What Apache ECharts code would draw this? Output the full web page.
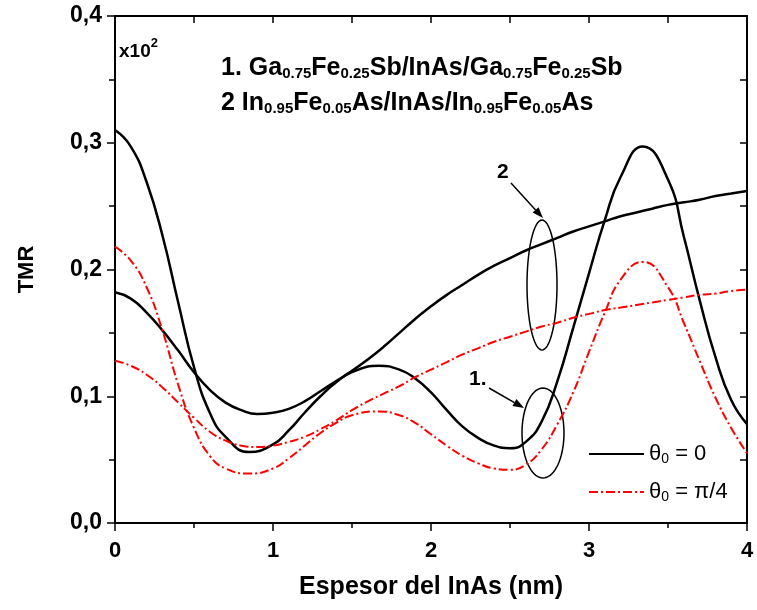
<!DOCTYPE html>
<html>
<head>
<meta charset="utf-8">
<script src="https://cdn.jsdelivr.net/npm/echarts@6/dist/echarts.min.js"></script>
<style>
  html, body { margin: 0; padding: 0; background: #fff; }
  #chart { width: 757px; height: 610px; }
</style>
</head>
<body>
<div id="chart"></div>
<script>
// thickness of InAs layer (nm); Ga grid includes the extrema of its oscillations
const thicknessGa = [0, 0.1, 0.2, 0.3, 0.4, 0.5, 0.6, 0.7, 0.85, 1.0, 1.1, 1.2, 1.3, 1.4, 1.5, 1.67, 1.8, 1.9, 2.0,
  2.1, 2.2, 2.3, 2.4, 2.5, 2.6, 2.7, 2.8, 2.9, 3.0, 3.1, 3.2, 3.34, 3.5, 3.6, 3.7, 3.8, 3.9, 4.0]
const thicknessIn = [0, 0.1, 0.2, 0.3, 0.4, 0.5, 0.6, 0.7, 0.8, 0.9, 1.0, 1.1, 1.2, 1.3, 1.4, 1.5, 1.6, 1.7, 1.8, 1.9, 2.0,
  2.1, 2.2, 2.3, 2.4, 2.5, 2.6, 2.7, 2.8, 2.9, 3.0, 3.1, 3.2, 3.3, 3.4, 3.5, 3.6, 3.7, 3.8, 3.9, 4.0]

// 1. GaFeSb/InAs/GaFeSb
const gaTheta0 = [0.310, 0.297, 0.269, 0.227, 0.174, 0.123, 0.087, 0.068, 0.056, 0.062, 0.073, 0.087, 0.100, 0.111,
  0.119, 0.124, 0.121, 0.114, 0.103, 0.089, 0.076, 0.067, 0.061, 0.059, 0.064, 0.080, 0.112, 0.154, 0.197,
  0.239, 0.273, 0.297, 0.271, 0.226, 0.176, 0.131, 0.097, 0.078]
const gaThetaPi4 = [0.218, 0.207, 0.186, 0.152, 0.109, 0.075, 0.053, 0.043, 0.039, 0.043, 0.051, 0.061, 0.071, 0.079,
  0.085, 0.088, 0.085, 0.079, 0.070, 0.061, 0.053, 0.047, 0.043, 0.042, 0.046, 0.058, 0.078, 0.103, 0.135,
  0.166, 0.192, 0.206, 0.186, 0.158, 0.128, 0.099, 0.075, 0.055]

// 2. InFeAs/InAs/InFeAs
const inTheta0 = [0.182, 0.177, 0.166, 0.152, 0.136, 0.119, 0.105, 0.095, 0.089, 0.086, 0.087, 0.090, 0.096, 0.104, 0.112,
  0.120, 0.129, 0.139, 0.150, 0.161, 0.171, 0.180, 0.188, 0.196, 0.203, 0.209, 0.215, 0.220, 0.225, 0.230, 0.234,
  0.238, 0.242, 0.245, 0.248, 0.251, 0.253, 0.255, 0.258, 0.260, 0.262]
const inThetaPi4 = [0.128, 0.124, 0.117, 0.107, 0.095, 0.083, 0.072, 0.065, 0.061, 0.060, 0.061, 0.064, 0.068, 0.074, 0.081,
  0.089, 0.096, 0.102, 0.108, 0.115, 0.121, 0.127, 0.133, 0.138, 0.143, 0.147, 0.151, 0.155, 0.158, 0.162, 0.165,
  0.168, 0.170, 0.172, 0.174, 0.176, 0.178, 0.180, 0.181, 0.183, 0.184]

const legendNames = ['θ0 = 0', 'θ0 = π/4']

const font = '"Liberation Sans", Arial, sans-serif'
const pairs = (xs, ys) => xs.map((x, i) => [x, ys[i]])

const solid = { color: '#000', width: 2.5, type: 'solid' }
const dashDot = { color: '#ff0000', width: 2, type: [9, 3, 2, 3] }

function ellipse(cx, cy, rx, ry) {
  const pts = []
  for (let i = 0; i < 72; i++) {
    const a = i / 72 * Math.PI * 2
    pts.push([cx + rx * Math.cos(a), cy + ry * Math.sin(a)])
  }
  return { type: 'polygon', shape: { points: pts }, style: { fill: 'none', stroke: '#000', lineWidth: 1.5 } }
}

function arrow(x1, y1, x2, y2) {
  const ang = Math.atan2(y2 - y1, x2 - x1)
  const len = 11, half = 4
  const bx = x2 - len * Math.cos(ang), by = y2 - len * Math.sin(ang)
  return [
    { type: 'line', shape: { x1: x1, y1: y1, x2: bx, y2: by }, style: { stroke: '#000', lineWidth: 1.5 } },
    { type: 'polygon', shape: { points: [[x2, y2], [bx + half * Math.sin(ang), by - half * Math.cos(ang)], [bx - half * Math.sin(ang), by + half * Math.cos(ang)]] }, style: { fill: '#000' } },
  ]
}

const subRich = {
  n: { fontFamily: font, fontWeight: 'bold', fontSize: 25, lineHeight: 30, verticalAlign: 'bottom', fill: '#000' },
  s: { fontFamily: font, fontWeight: 'bold', fontSize: 15, lineHeight: 16, verticalAlign: 'bottom', fill: '#000' },
}

const chart = echarts.init(document.getElementById('chart'))
chart.setOption({
  animation: false,
  backgroundColor: '#fff',
  grid: { left: 115, right: 10, top: 16, bottom: 87 },
  legend: {
    data: legendNames,
    orient: 'vertical',
    left: 588,
    top: 442,
    padding: 0,
    itemWidth: 55,
    itemHeight: 14,
    itemGap: 14,
    itemStyle: { opacity: 0 },
    formatter: name => name.replace('θ0', '{t|θ}{s|0}'),
    textStyle: {
      fontFamily: font, fontSize: 22, color: '#000', lineHeight: 24,
      rich: {
        t: { fontFamily: font, fontSize: 22, color: '#000' },
        s: { fontFamily: font, fontSize: 14, color: '#000', verticalAlign: 'bottom', lineHeight: 14 },
      },
    },
  },
  xAxis: [
    {
      type: 'value', min: 0, max: 4, interval: 1,
      name: 'Espesor del InAs (nm)', nameLocation: 'middle', nameGap: 52,
      nameTextStyle: { fontFamily: font, fontWeight: 'bold', fontSize: 25, color: '#000' },
      axisLine: { onZero: false, lineStyle: { color: '#000', width: 2 } },
      axisTick: { length: 8, lineStyle: { color: '#000', width: 1.5 } },
      minorTick: { show: true, splitNumber: 2, length: 5, lineStyle: { color: '#000', width: 1.5 } },
      axisLabel: { fontFamily: font, fontWeight: 'bold', fontSize: 22, color: '#000', margin: 17 },
      splitLine: { show: false },
    },
    {
      type: 'value', position: 'top', min: 0, max: 4, interval: 0.5,
      axisLine: { onZero: false, lineStyle: { color: '#000', width: 2 } },
      axisTick: { inside: true, length: 7, lineStyle: { color: '#000', width: 1.5 } },
      axisLabel: { show: false },
      splitLine: { show: false },
    },
  ],
  yAxis: [
    {
      type: 'value', min: 0, max: 0.4, interval: 0.1,
      name: 'TMR', nameLocation: 'middle', nameGap: 77, nameRotate: 90,
      nameTextStyle: { fontFamily: font, fontWeight: 'bold', fontSize: 22, color: '#000' },
      axisLine: { show: true, onZero: false, lineStyle: { color: '#000', width: 2 } },
      axisTick: { show: true, length: 8, lineStyle: { color: '#000', width: 1.5 } },
      minorTick: { show: true, splitNumber: 2, length: 6, lineStyle: { color: '#000', width: 1.5 } },
      axisLabel: { fontFamily: font, fontWeight: 'bold', fontSize: 23, color: '#000', margin: 13,
        formatter: v => v.toFixed(1).replace('.', ',') },
      splitLine: { show: false },
    },
    {
      type: 'value', position: 'right', min: 0, max: 0.4, interval: 0.05,
      axisLine: { show: true, onZero: false, lineStyle: { color: '#000', width: 2 } },
      axisTick: { show: true, inside: true, length: 7, lineStyle: { color: '#000', width: 1.5 } },
      axisLabel: { show: false },
      splitLine: { show: false },
    },
  ],
  series: [
    { name: legendNames[0], type: 'line', data: pairs(thicknessGa, gaTheta0), smooth: 0.5, symbol: 'none', lineStyle: solid, itemStyle: { color: '#000' } },
    { name: legendNames[0], type: 'line', data: pairs(thicknessIn, inTheta0), smooth: 0.5, symbol: 'none', lineStyle: solid, itemStyle: { color: '#000' } },
    { name: legendNames[1], type: 'line', data: pairs(thicknessGa, gaThetaPi4), smooth: 0.5, symbol: 'none', lineStyle: dashDot, itemStyle: { color: '#ff0000' } },
    { name: legendNames[1], type: 'line', data: pairs(thicknessIn, inThetaPi4), smooth: 0.5, symbol: 'none', lineStyle: dashDot, itemStyle: { color: '#ff0000' } },
  ],
  graphic: [
    {
      type: 'text', left: 119, top: 37,
      style: {
        text: '{a|x10}{b|2}',
        rich: {
          a: { fontFamily: font, fontWeight: 'bold', fontSize: 19, lineHeight: 24, verticalAlign: 'bottom', fill: '#000' },
          b: { fontFamily: font, fontWeight: 'bold', fontSize: 13, lineHeight: 24, verticalAlign: 'top', fill: '#000' },
        },
      },
    },
    {
      type: 'text', left: 221, top: 56,
      style: { text: '{n|1. Ga}{s|0.75}{n|Fe}{s|0.25}{n|Sb/InAs/Ga}{s|0.75}{n|Fe}{s|0.25}{n|Sb}', rich: subRich },
    },
    {
      type: 'text', left: 221, top: 91,
      style: { text: '{n|2 In}{s|0.95}{n|Fe}{s|0.05}{n|As/InAs/In}{s|0.95}{n|Fe}{s|0.05}{n|As}', rich: subRich },
    },
    { type: 'text', left: 497, top: 162, style: { text: '2', font: 'bold 21px ' + font, fill: '#000' } },
    { type: 'text', left: 469, top: 369, style: { text: '1.', font: 'bold 21px ' + font, fill: '#000' } },
    ellipse(542, 285, 15, 65),
    ellipse(543, 433, 21, 45),
    ...arrow(511, 183, 543, 218),
    ...arrow(489, 388, 524, 408),
  ],
})
</script>
</body>
</html>
